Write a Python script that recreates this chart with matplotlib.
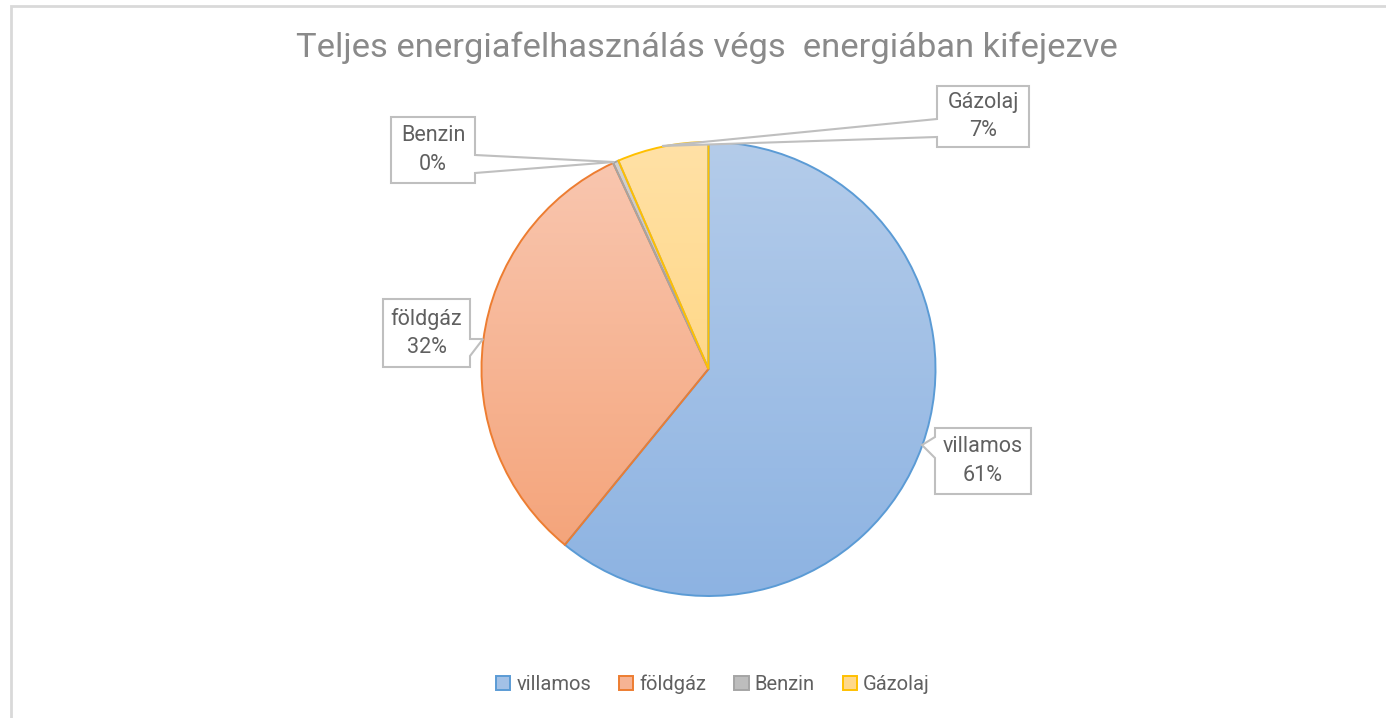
import numpy as np
import matplotlib
matplotlib.use("Agg")
import matplotlib.pyplot as plt
from matplotlib.patches import Polygon, Patch
from matplotlib.colors import to_rgb

# ---- data ----
categories = ["villamos", "földgáz", "Benzin", "Gázolaj"]
values = [60.9, 32.2, 0.4, 6.5]
label_pct = ["61%", "32%", "0%", "7%"]
title = "Teljes energiafelhasználás végs  energiában kifejezve"

# ---- styles ----
edge_colors = ["#5B9BD5", "#ED7D31", "#A5A5A5", "#FFC000"]
top_colors = ["#B4CCEA", "#F9C8B2", "#D2D2D2", "#FFE1A6"]
bot_colors = ["#8DB3E2", "#F4A074", "#A8A8A8", "#FFCF6B"]
FONT = ["Roboto", "DejaVu Sans"]
W, H = 1386, 718

fig = plt.figure(figsize=(W / 100, H / 100), dpi=100)
ax = fig.add_axes([0, 0, 1, 1])


def Y(y):
    return H - y


cx, cy, r = 708.5, Y(369), 227
wedges, _ = ax.pie(values, startangle=90, counterclock=False, center=(cx, cy),
                   radius=r, frame=True,
                   wedgeprops=dict(linewidth=1.4, facecolor="none"))

n = 256
for w, ec, tc, bc in zip(wedges, edge_colors, top_colors, bot_colors):
    w.set_edgecolor(ec)
    w.set_zorder(3)
    t = np.linspace(0, 1, n)[:, None, None]
    grad = (1 - t) * np.array(to_rgb(tc))[None, None, :] + t * np.array(to_rgb(bc))[None, None, :]
    im = ax.imshow(grad, extent=(cx - r, cx + r, cy - r, cy + r), origin="upper",
                   aspect="auto", zorder=2, interpolation="bilinear")
    im.set_clip_path(w)

# ---- callout labels ----
callouts = [
    dict(poly=[(935, 428), (1031, 428), (1031, 494), (935, 494), (935, 458), (922, 445), (935, 437)],
         center=(983, 461)),
    dict(poly=[(383, 299), (470, 299), (470, 339), (483, 339), (470, 356), (470, 367), (383, 367)],
         center=(426.5, 333)),
    dict(poly=[(391, 117), (475, 117), (475, 155), (614, 162), (475, 173), (475, 183), (391, 183)],
         center=(433, 150)),
    dict(poly=[(937, 86), (1029, 86), (1029, 147), (937, 147), (937, 137), (662, 146), (937, 119)],
         center=(983, 116.5)),
]
for cat, pct, co in zip(categories, label_pct, callouts):
    pts = [(x, Y(y)) for x, y in co["poly"]]
    ax.add_patch(Polygon(pts, closed=True, facecolor="white", edgecolor="#BFBFBF",
                         linewidth=1.5, zorder=5, joinstyle="miter"))
    ax.text(co["center"][0], Y(co["center"][1]), f"{cat}\n{pct}", ha="center", va="center",
            fontsize=15.5, color="#606060", family=FONT, linespacing=1.45, zorder=6)

# ---- title ----
ax.text(707, Y(48), title, ha="center", va="center", fontsize=24.8, color="#8A8A8A",
        family=FONT)

# ---- frame ----
ax.plot([10.5, 10.5, W], [Y(H), Y(5.5), Y(5.5)], color="#D9D9D9", linewidth=2, zorder=1,
        solid_joinstyle="miter")

ax.set_xlim(0, W)
ax.set_ylim(0, H)
ax.set_aspect("auto")
ax.axis("off")

# ---- legend ----
handles = [Patch(facecolor=c, edgecolor=e, linewidth=1.4)
           for c, e in zip(["#A3C1E6", "#F6B394", "#BDBDBD", "#FFD88A"], edge_colors)]
leg = fig.legend(handles, categories, loc="center", bbox_to_anchor=(713 / W, 1 - 684 / H), ncol=4,
                 frameon=False, handlelength=0.7, handleheight=0.7, handletextpad=0.3,
                 columnspacing=1.4, prop=dict(family=FONT, size=14.5))
for t in leg.get_texts():
    t.set_color("#606060")

fig.savefig("out.png", dpi=100, facecolor="white")
